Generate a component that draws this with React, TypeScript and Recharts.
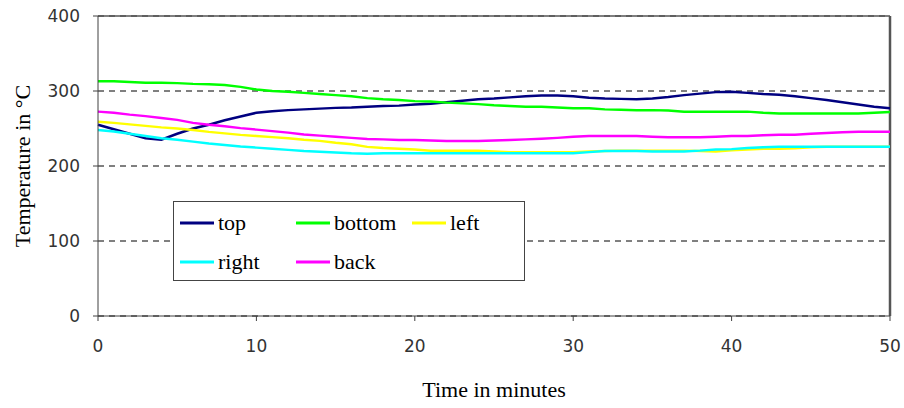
import React from 'react';
import { LineChart, Line, XAxis, YAxis, CartesianGrid, ReferenceLine, Legend, Label } from 'recharts';

const minutes = [
  0, 1, 2, 3, 4, 5, 6, 7, 8, 9, 10, 11, 12, 13, 14, 15, 16, 17, 18, 19, 20, 21, 22, 23, 24, 25,
  26, 27, 28, 29, 30, 31, 32, 33, 34, 35, 36, 37, 38, 39, 40, 41, 42, 43, 44, 45, 46, 47, 48, 49, 50,
];

const top = [
  255, 249, 243, 237, 235, 243, 250, 255, 261, 266, 271, 273, 274.5, 275.5, 276.5, 277.5, 278, 279, 280,
  280.5, 282, 283, 285, 287, 289, 290, 291.5, 293, 294, 294, 293, 291, 290, 289.5, 289, 290, 292, 294.5,
  296.5, 298.5, 299, 297.5, 296, 295, 293, 290.5, 288, 285, 282, 279, 277,
];

const bottom = [
  313, 313, 312, 311, 311, 310.5, 309.5, 309, 308, 305.5, 302, 300, 299, 297.5, 296, 294.5, 293, 290.5,
  289, 288, 286.5, 286, 284.5, 283.5, 282.5, 281, 280, 279, 279, 278, 277, 277, 275.5, 275, 274.5, 274.5,
  274, 272.5, 272.5, 272.5, 272.5, 272.5, 271, 270, 270, 270, 270, 270, 270, 271, 272,
];

const left = [
  259, 257.5, 255.5, 253.5, 251.5, 250, 248, 245.5, 243.5, 241.5, 240, 238.5, 237, 235, 233.5, 231, 229,
  225.5, 224, 223, 222, 220.5, 220.5, 220.5, 220.5, 219.5, 218.5, 218.5, 218.5, 218.5, 218.5, 219.5, 220,
  220.5, 220.5, 220.5, 220.5, 220.5, 220, 219.5, 221, 222, 223, 223, 223.5, 225, 225.8, 225.8, 225.8,
  225.8, 225.8,
];

const right = [
  248, 246, 243, 240, 237, 235, 232.5, 230, 228, 226, 224.5, 223, 221.5, 220, 219, 218, 217, 216.5, 217,
  217, 217, 217, 217, 217, 217, 217, 217, 217, 217, 217, 217, 218.5, 220, 220, 220, 219.5, 219.5, 219.5,
  220.5, 222, 222.5, 224, 225, 225.8, 225.8, 225.8, 225.8, 225.8, 225.8, 225.8, 225.8,
];

const back = [
  272.5, 271, 268.5, 266.5, 264, 261.5, 257.5, 255, 253, 250.5, 248.5, 246.5, 244.5, 242, 240.5, 239,
  237.5, 236, 235.5, 234.7, 234.7, 234, 233.3, 233.3, 233.3, 234, 234.7, 235.5, 236.4, 237.5, 239, 240,
  240, 240, 240, 239, 238.2, 238.2, 238.2, 239, 240, 240, 241, 241.8, 241.8, 243, 244, 245, 245.8, 245.8,
  245.8,
];

const xTicks = [0, 10, 20, 30, 40, 50];
const yTicks = [0, 100, 200, 300, 400];

const series = [
  { key: 'top', color: '#000080' },
  { key: 'bottom', color: '#00ff00' },
  { key: 'left', color: '#ffff00' },
  { key: 'right', color: '#00ffff' },
  { key: 'back', color: '#ff00ff' },
];

const data = minutes.map((t, i) => ({
  t,
  top: top[i],
  bottom: bottom[i],
  left: left[i],
  right: right[i],
  back: back[i],
}));

const serif = "'Liberation Serif', 'Times New Roman', serif";
const tickStyle = { fontFamily: "'DejaVu Sans', Verdana, sans-serif", fontSize: 17, fill: '#333' };
const titleStyle = { fontFamily: serif, fontSize: 22, fill: '#000' };

// legend drawn as a small svg so it gets the same serif font as the axis titles
const LegendBox = () => (
  <svg width={352} height={80} style={{ display: 'block' }}>
    <rect x={0.5} y={0.5} width={351} height={79} fill="#fff" stroke="#444" />
    {series.map((s, i) => {
      const x = 7 + (i % 3) * 116;
      const y = 22 + Math.floor(i / 3) * 39;
      return (
        <g key={s.key}>
          <line x1={x} x2={x + 34} y1={y} y2={y} stroke={s.color} strokeWidth={3} />
          <text x={x + 38} y={y + 7} style={titleStyle}>
            {s.key}
          </text>
        </g>
      );
    })}
  </svg>
);

export default function App() {
  return (
    <div style={{ position: 'absolute', left: 0, top: 0, background: '#fff' }}>
      <LineChart width={904} height={408} data={data} margin={{ top: 16, right: 14, bottom: 0, left: 0 }}>
        <CartesianGrid vertical={false} stroke="#000" strokeDasharray="6 5" />
        <ReferenceLine y={400} stroke="#555" strokeWidth={1.5} />
        <ReferenceLine x={50} stroke="#555" strokeWidth={2.5} />
        <XAxis
          dataKey="t"
          type="number"
          domain={[0, 50]}
          ticks={xTicks}
          height={92}
          tick={tickStyle}
          tickSize={5}
          tickMargin={19}
          stroke="#404040"
        >
          <Label
            content={({ viewBox }: any) => (
              <text x={viewBox.x + viewBox.width / 2} y={viewBox.y + 81} textAnchor="middle" style={titleStyle}>
                Time in minutes
              </text>
            )}
          />
        </XAxis>
        <YAxis
          type="number"
          domain={[0, 400]}
          ticks={yTicks}
          width={98}
          tick={tickStyle}
          tickSize={5}
          tickMargin={13}
          stroke="#404040"
        >
          <Label
            content={({ viewBox }: any) => (
              <text
                x={0}
                y={0}
                transform={`translate(30, ${viewBox.y + viewBox.height / 2}) rotate(-90)`}
                textAnchor="middle"
                style={titleStyle}
              >
                Temperature in °C
              </text>
            )}
          />
        </YAxis>
        <Legend
          layout="vertical"
          align="center"
          verticalAlign="middle"
          wrapperStyle={{ left: 173, top: 201, width: 352, fontFamily: serif }}
          content={() => <LegendBox />}
        />
        {series.map((s) => (
          <Line
            key={s.key}
            dataKey={s.key}
            type="linear"
            stroke={s.color}
            strokeWidth={2.5}
            dot={false}
            isAnimationActive={false}
          />
        ))}
      </LineChart>
    </div>
  );
}
